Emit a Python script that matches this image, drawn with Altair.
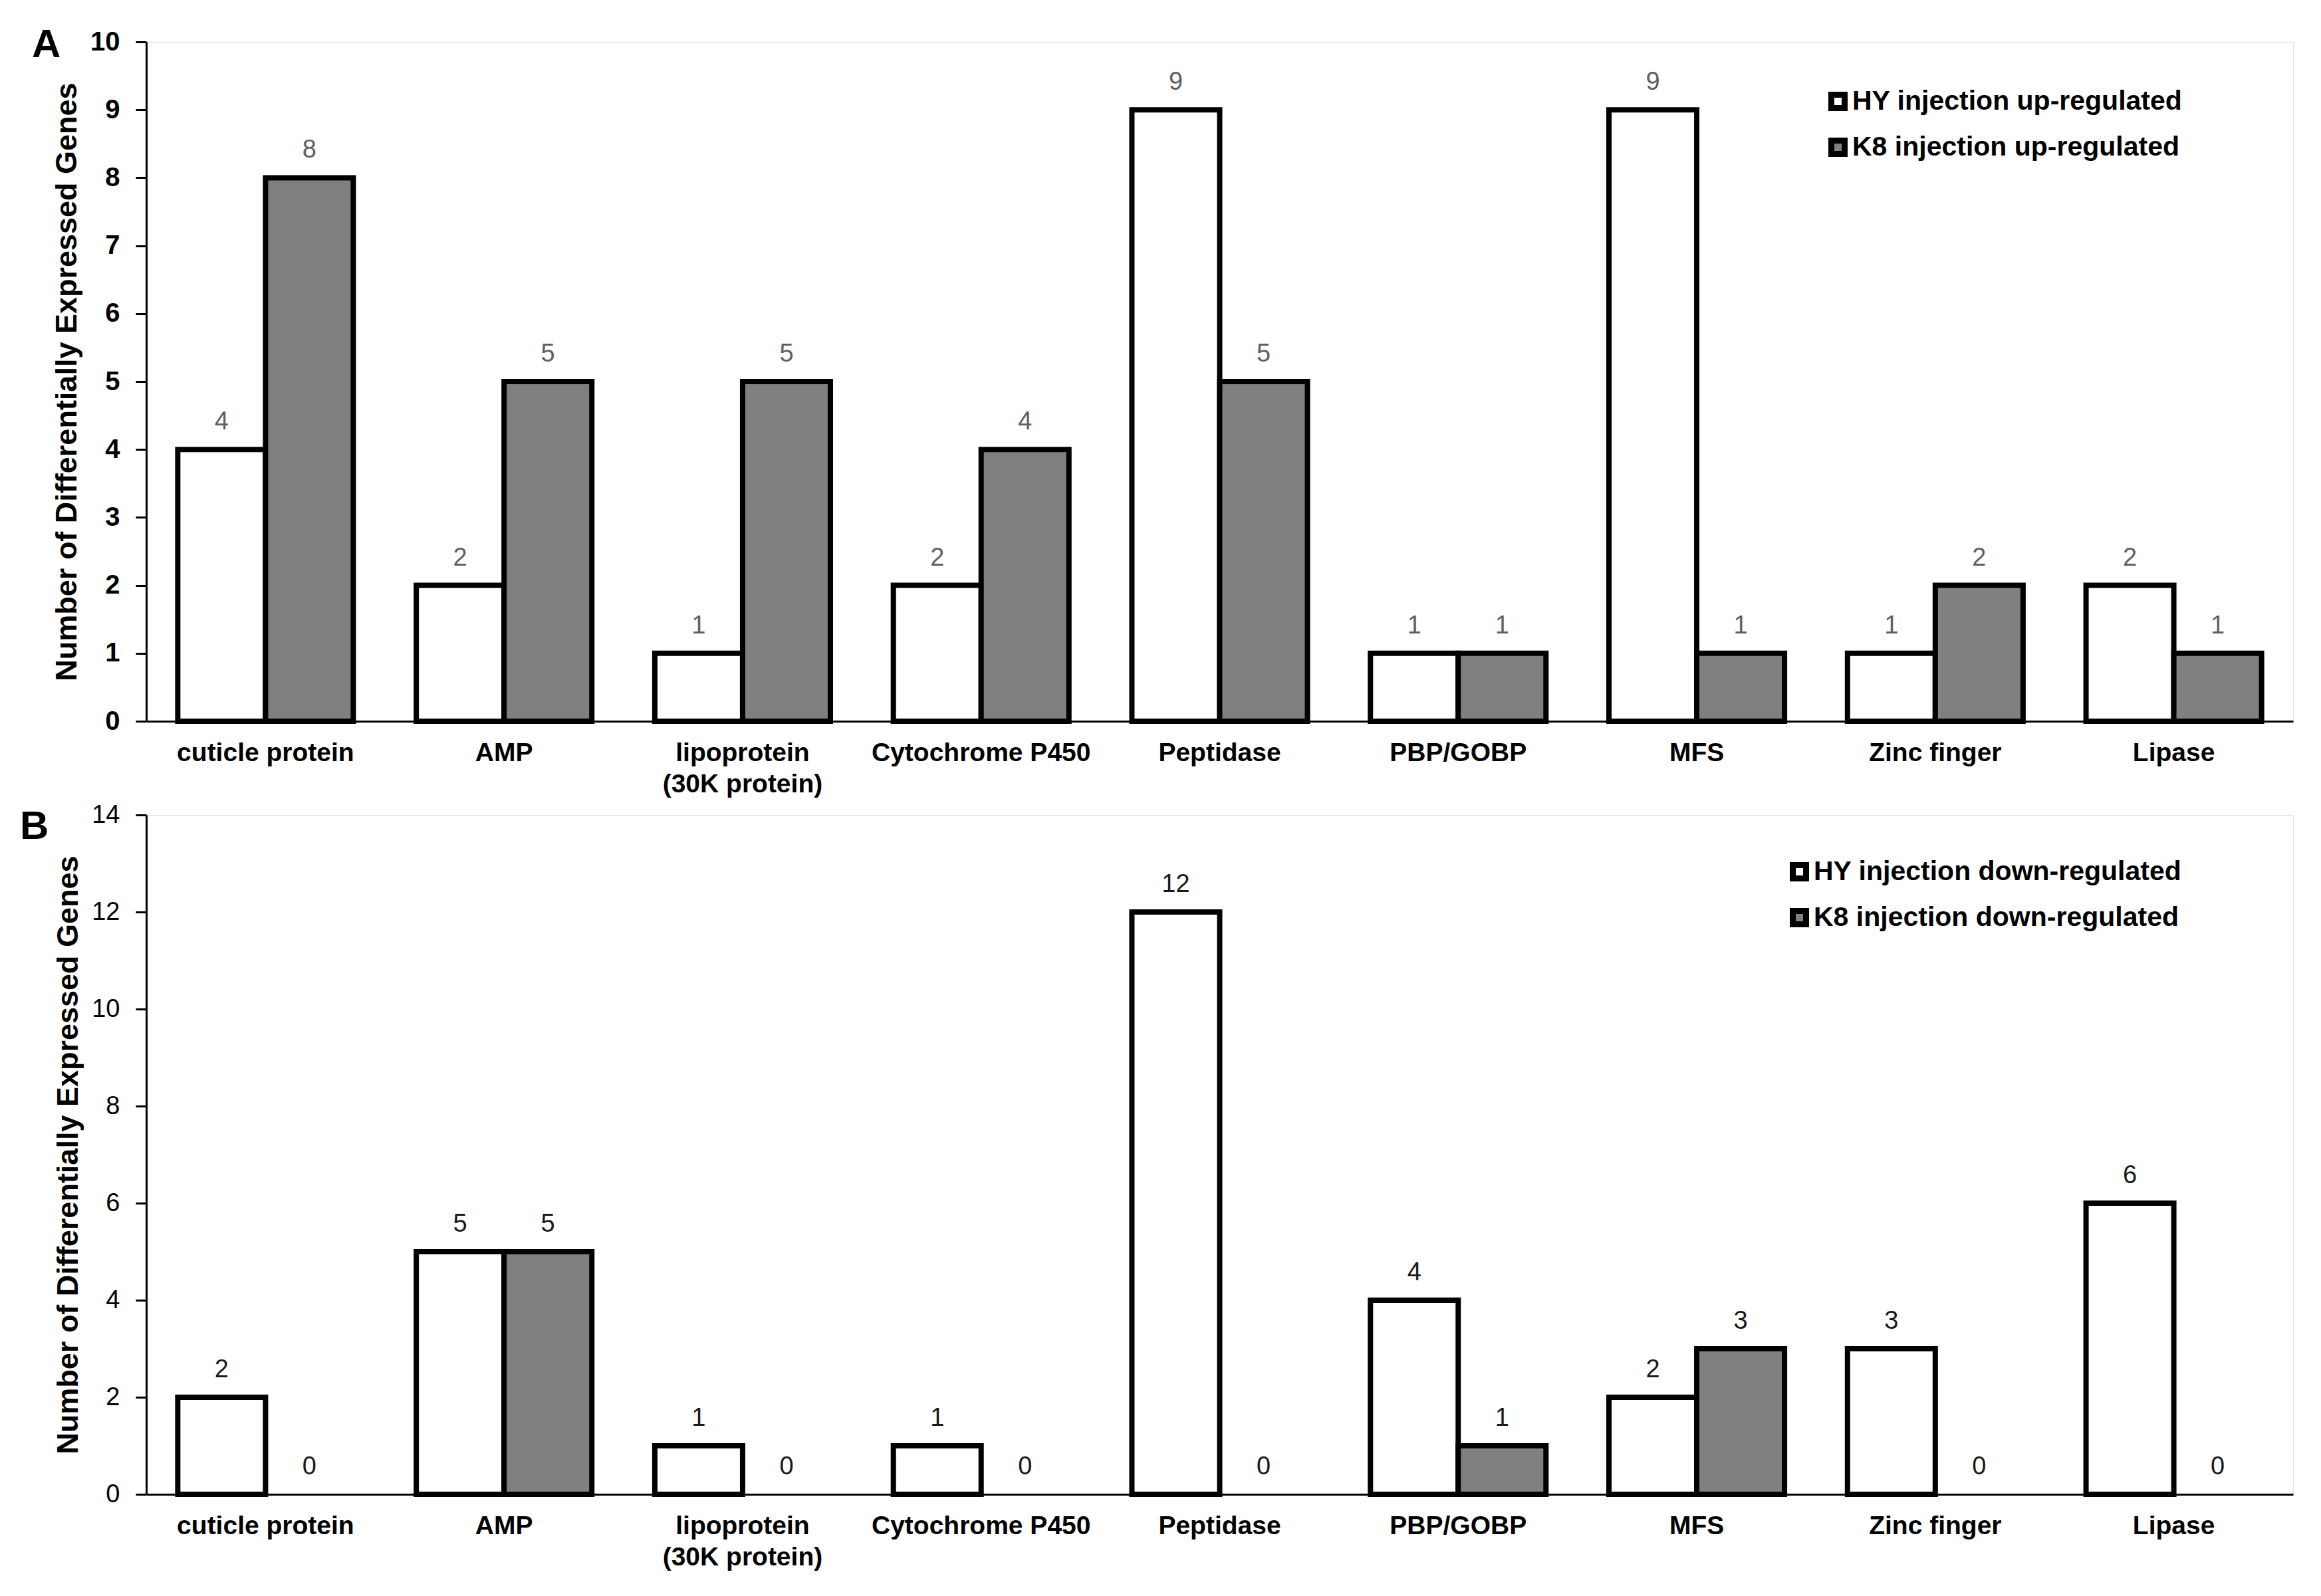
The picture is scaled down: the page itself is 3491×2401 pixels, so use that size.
import altair as alt
import pandas as pd

categories = ["cuticle protein", "AMP", "lipoprotein (30K protein)", "Cytochrome P450",
              "Peptidase", "PBP/GOBP", "MFS", "Zinc finger", "Lipase"]
up_hy = [4, 2, 1, 2, 9, 1, 9, 1, 2]
up_k8 = [8, 5, 5, 4, 5, 1, 1, 2, 1]
down_hy = [2, 5, 1, 1, 12, 4, 2, 3, 6]
down_k8 = [0, 5, 0, 0, 0, 1, 3, 0, 0]
series_up = ["HY injection up-regulated", "K8 injection up-regulated"]
series_down = ["HY injection down-regulated", "K8 injection down-regulated"]
fills = ["#ffffff", "#808080"]
y_title = "Number of Differentially Expressed Genes"


def make_df(hy, k8, names):
    rows = []
    for c, a, b in zip(categories, hy, k8):
        rows.append({"category": c, "series": names[0], "value": a})
        rows.append({"category": c, "series": names[1], "value": b})
    return pd.DataFrame(rows)


W, H = 3229, 1022
FONT = "Liberation Sans"
label_expr = ("datum.label == 'lipoprotein (30K protein)' ? "
              "['lipoprotein', '(30K protein)'] : datum.label")


def panel(df, names, ymax, ystep, letter, tick_weight, tick_size,
          value_color, legend_x, legend_y, letter_dx, letter_dy):
    x = alt.X("category:N", sort=categories,
              scale=alt.Scale(paddingInner=0.264, paddingOuter=0.132),
              axis=alt.Axis(title=None, labelExpr=label_expr, labelFont=FONT,
                            labelFontSize=39, labelFontWeight="bold",
                            labelColor="black", ticks=False, labelPadding=28,
                            labelLineHeight=47, labelAngle=0, labelLimit=2000,
                            labelOverlap=False, domainColor="black",
                            domainWidth=3))
    y = alt.Y("value:Q", scale=alt.Scale(domain=[0, ymax], nice=False),
              axis=alt.Axis(title=y_title, values=list(range(0, ymax + 1, ystep)),
                            labelFont=FONT, labelFontSize=tick_size,
                            labelFontWeight=tick_weight, labelColor="black",
                            labelPadding=24, tickSize=16, tickWidth=3,
                            tickColor="black", domainColor="black",
                            domainWidth=3, grid=False, titleFont=FONT,
                            titleFontSize=45, titleFontWeight="bold",
                            titleColor="black", titlePadding=12))
    xo = alt.XOffset("series:N", sort=names)
    base = alt.Chart(df)
    bars = base.transform_filter("datum.value > 0").mark_bar(
        stroke="black", strokeWidth=8).encode(
        x=x, y=y, xOffset=xo,
        fill=alt.Fill("series:N", sort=names,
                      scale=alt.Scale(domain=names, range=fills),
                      legend=alt.Legend(orient="none", legendX=legend_x,
                                        legendY=legend_y, title=None,
                                        labelFont=FONT, labelFontSize=41,
                                        labelFontWeight="bold",
                                        labelColor="black",
                                        symbolType="square", symbolSize=400,
                                        symbolStrokeWidth=9,
                                        symbolStrokeColor="black",
                                        symbolOpacity=1, labelOffset=1,
                                        rowPadding=12, padding=0,
                                        labelLimit=2000)))
    texts = base.mark_text(font=FONT, fontSize=38, color=value_color,
                           baseline="alphabetic", dy=-30).encode(
        x=x, y=y, xOffset=xo, text="value:Q")
    return alt.layer(bars, texts).properties(
        width=W, height=H,
        title=alt.TitleParams(text=letter, anchor="start", frame="group",
                              orient="top", font=FONT, fontSize=60,
                              fontWeight="bold", color="black", offset=0,
                              dx=letter_dx, dy=letter_dy,
                              baseline="alphabetic"))


top = panel(make_df(up_hy, up_k8, series_up), series_up, 10, 1, "A", "bold",
            40, "#606060", 2524, 69, -172, 103)
bottom = panel(make_df(down_hy, down_k8, series_down), series_down, 14, 2, "B",
               "normal", 38, "#1a1a1a", 2466, 65, -190, 115)

chart = alt.vconcat(top, bottom, spacing=6).resolve_scale(
    x="independent", y="independent", fill="independent", xOffset="independent"
).resolve_legend(fill="independent").properties(
    padding={"left": 21, "top": 29, "right": 10, "bottom": 10}
).configure_view(stroke="black", strokeWidth=3).configure(background="white")

chart.save("out.html", embed_options={"renderer": "svg", "actions": False})
